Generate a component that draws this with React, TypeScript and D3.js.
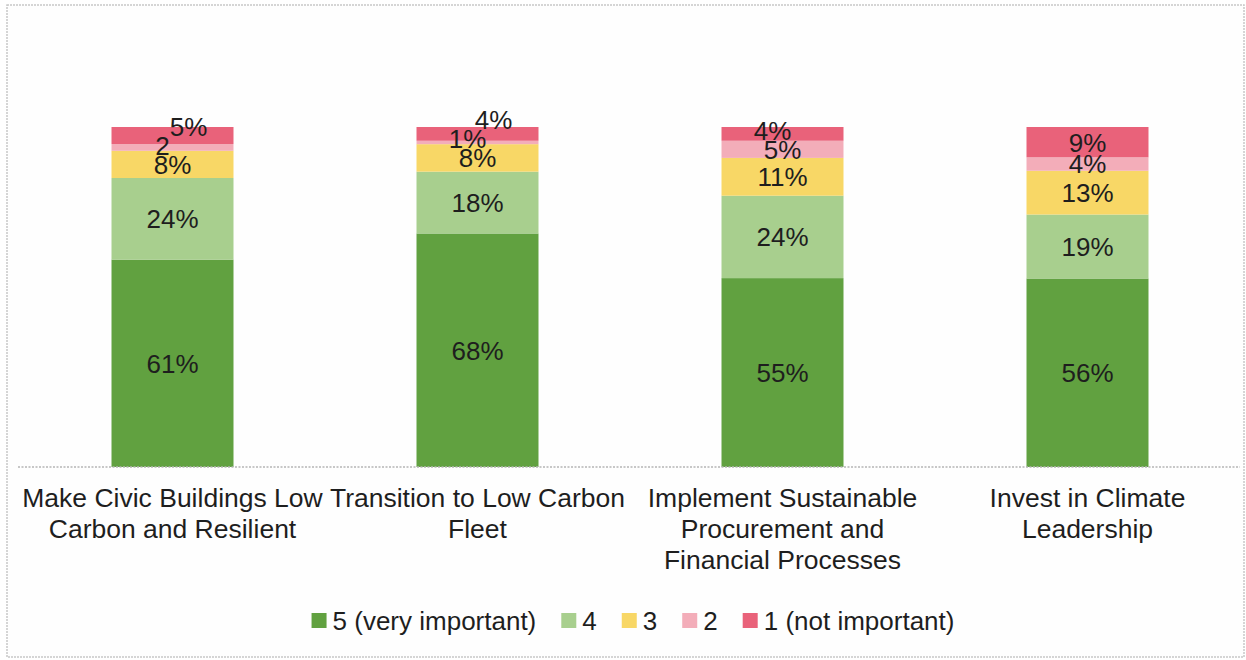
import React, { useEffect, useRef } from "react";
import * as d3 from "d3";

// survey results, percent of respondents per rating
const categories = [
  "Make Civic Buildings Low Carbon and Resilient",
  "Transition to Low Carbon Fleet",
  "Implement Sustainable Procurement and Financial Processes",
  "Invest in Climate Leadership",
];
const ratings = ["5 (very important)", "4", "3", "2", "1 (not important)"];
const veryImportant = [61, 68, 55, 56];
const rating4 = [24, 18, 24, 19];
const rating3 = [8, 8, 11, 13];
const rating2 = [2, 1, 5, 4];
const notImportant = [5, 4, 4, 9];
// label texts as printed (one label lost its % sign in the original)
const labelText = [
  ["61%", "24%", "8%", "2", "5%"],
  ["68%", "18%", "8%", "1%", "4%"],
  ["55%", "24%", "11%", "5%", "4%"],
  ["56%", "19%", "13%", "4%", "9%"],
];
const colors = ["#61a140", "#a8cf8e", "#f8d766", "#f3adb9", "#e9627a"];

const W = 1246,
  H = 660;
const FONT = "'Liberation Sans', Arial, sans-serif";

export default function App() {
  const ref = useRef<SVGSVGElement | null>(null);

  useEffect(() => {
    const svg = d3.select(ref.current);
    svg.selectAll("*").remove();

    const series = [veryImportant, rating4, rating3, rating2, notImportant];
    const rows = categories.map((c, i) => {
      const r: any = { cat: c };
      ratings.forEach((k, j) => (r[k] = series[j][i]));
      return r;
    });
    const stacked = d3.stack().keys(ratings).offset(d3.stackOffsetExpand)(rows);

    const margin = { top: 127, bottom: 193, left: 20, right: 6 };
    const x = d3
      .scaleBand()
      .domain(categories)
      .range([margin.left, W - margin.right])
      .paddingInner(0.6)
      .paddingOuter(0.3);
    const y = d3.scaleLinear().domain([0, 1]).range([H - margin.bottom, margin.top]);

    // frame of the scanned chart
    svg
      .append("rect")
      .attr("x", 7)
      .attr("y", 5)
      .attr("width", 1237)
      .attr("height", 652)
      .attr("fill", "#fefefe")
      .attr("stroke", "#c8c8c8")
      .attr("stroke-width", 1.5)
      .attr("stroke-dasharray", "2,1");

    // bars
    stacked.forEach((s, j) => {
      svg
        .append("g")
        .selectAll("rect")
        .data(s)
        .enter()
        .append("rect")
        .attr("x", (d: any) => x(d.data.cat)!)
        .attr("width", x.bandwidth())
        .attr("y", (d) => y(d[1]))
        .attr("height", (d) => y(d[0]) - y(d[1]))
        .attr("fill", colors[j]);
    });

    // axis line
    svg
      .append("line")
      .attr("x1", 18)
      .attr("x2", 1240)
      .attr("y1", y(0))
      .attr("y2", y(0))
      .attr("stroke", "#b5b5b5")
      .attr("stroke-width", 1.5)
      .attr("stroke-dasharray", "2,1.5");

    // data labels: when two collide, push the upper one up and sideways
    categories.forEach((c, i) => {
      const pos = stacked.map((s) => (y(s[i][0]) + y(s[i][1])) / 2);
      const dx = pos.map(() => 0);
      let side = -1;
      for (let j = 1; j < pos.length; j++) {
        if (pos[j - 1] - pos[j] < 19) {
          pos[j] = pos[j - 1] - 19;
          dx[j] = side < 0 ? -10 : 16;
          side = -side;
        }
      }
      svg
        .append("g")
        .selectAll("text")
        .data(pos)
        .enter()
        .append("text")
        .attr("x", (d, j) => x(c)! + x.bandwidth() / 2 + dx[j])
        .attr("y", (d) => d)
        .attr("dy", "0.36em")
        .attr("text-anchor", "middle")
        .attr("font-family", FONT)
        .attr("font-size", 26)
        .attr("fill", "#1e1e1e")
        .text((d, j) => labelText[i][j]);
    });

    // category labels, wrapped to the band step
    categories.forEach((c) => {
      const t = svg
        .append("text")
        .attr("text-anchor", "middle")
        .attr("font-family", FONT)
        .attr("font-size", 26.5)
        .attr("fill", "#1e1e1e");
      const cx = x(c)! + x.bandwidth() / 2;
      const words = c.split(" ");
      let line: string[] = [];
      let n = 0;
      let tspan = t.append("tspan").attr("x", cx).attr("y", 507);
      words.forEach((w) => {
        line.push(w);
        tspan.text(line.join(" "));
        if ((tspan.node() as SVGTextContentElement).getComputedTextLength() > x.step() && line.length > 1) {
          line.pop();
          tspan.text(line.join(" "));
          line = [w];
          n++;
          tspan = t
            .append("tspan")
            .attr("x", cx)
            .attr("y", 507 + n * 31)
            .text(w);
        }
      });
    });

    // legend
    const lg = svg.append("g");
    let lx = 0;
    ratings.forEach((r, j) => {
      lg.append("rect")
        .attr("x", lx)
        .attr("y", 613)
        .attr("width", 15)
        .attr("height", 15)
        .attr("fill", colors[j]);
      const tx = lg
        .append("text")
        .attr("x", lx + 21)
        .attr("y", 630)
        .attr("font-family", FONT)
        .attr("font-size", 26)
        .attr("fill", "#1e1e1e")
        .text(r);
      lx += 21 + (tx.node() as SVGTextContentElement).getComputedTextLength() + 25;
    });
    lg.attr("transform", `translate(${633 - (lx - 25) / 2},0)`);
  }, []);

  return (
    <svg
      ref={ref}
      width={W}
      height={H}
      style={{ position: "absolute", left: 0, top: 0, display: "block", background: "#fff" }}
    />
  );
}
